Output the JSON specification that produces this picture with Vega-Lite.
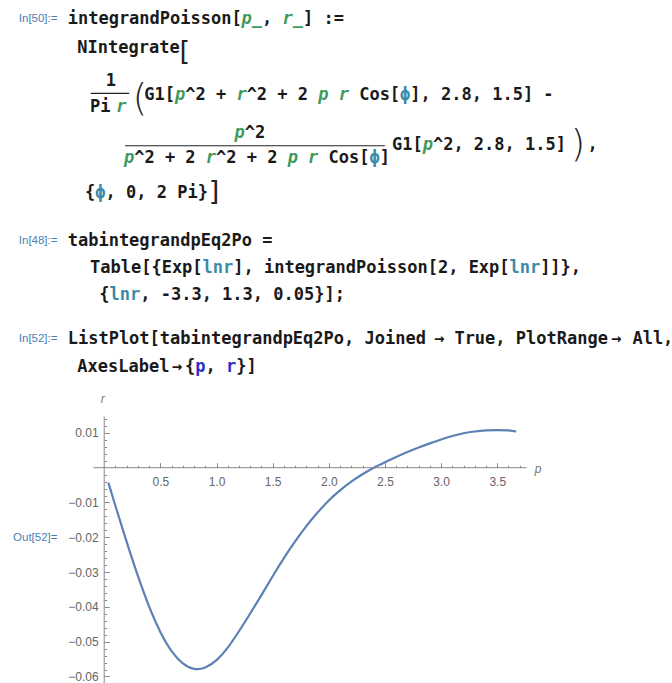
{
  "$schema": "https://vega.github.io/schema/vega-lite/v6.json",
  "width": 672,
  "height": 683,
  "padding": 0,
  "autosize": {"type": "none"},
  "background": "white",
  "config": {"view": {"stroke": null}, "axis": {"grid": false, "title": null}},
  "datasets": {
    "code": [
      {"line": 1, "col": 0, "text": "integrandPoisson[", "kind": "code"},
      {"line": 1, "col": 19, "text": ",", "kind": "code"},
      {"line": 1, "col": 23, "text": "] :=", "kind": "code"},
      {"line": 2.06, "col": 0.94, "text": "NIntegrate", "kind": "code"},
      {"line": 3.27, "col": 3.73, "text": "1", "kind": "code"},
      {"line": 4.22, "col": 2.18, "text": "Pi", "kind": "code"},
      {"line": 3.78, "col": 7.49, "text": "G1[", "kind": "code"},
      {"line": 3.78, "col": 11.49, "text": "^2 +", "kind": "code"},
      {"line": 3.78, "col": 17.49, "text": "^2 + 2", "kind": "code"},
      {"line": 3.78, "col": 28.49, "text": "Cos[", "kind": "code"},
      {"line": 3.78, "col": 32.49, "text": "ϕ", "kind": "local"},
      {"line": 3.78, "col": 33.49, "text": "], 2.8, 1.5] -", "kind": "code"},
      {"line": 5.18, "col": 17.3, "text": "^2", "kind": "code"},
      {"line": 6.09, "col": 6.5, "text": "^2 + 2", "kind": "code"},
      {"line": 6.09, "col": 14.5, "text": "^2 + 2", "kind": "code"},
      {"line": 6.09, "col": 25.5, "text": "Cos[", "kind": "code"},
      {"line": 6.09, "col": 29.5, "text": "ϕ", "kind": "local"},
      {"line": 6.09, "col": 30.5, "text": "]", "kind": "code"},
      {"line": 5.62, "col": 31.7, "text": "G1[", "kind": "code"},
      {"line": 5.62, "col": 35.7, "text": "^2, 2.8, 1.5]", "kind": "code"},
      {"line": 5.62, "col": 50.8, "text": ",", "kind": "code"},
      {"line": 7.37, "col": 1.7, "text": "{", "kind": "code"},
      {"line": 7.37, "col": 2.7, "text": "ϕ", "kind": "local"},
      {"line": 7.37, "col": 3.7, "text": ", 0, 2 Pi}", "kind": "code"},
      {"line": 9.12, "col": 0, "text": "tabintegrandpEq2Po =", "kind": "code"},
      {"line": 10.12, "col": 2.18, "text": "Table[{Exp[", "kind": "code"},
      {"line": 10.12, "col": 13.18, "text": "lnr", "kind": "local"},
      {"line": 10.12, "col": 16.18, "text": "], integrandPoisson[2, Exp[", "kind": "code"},
      {"line": 10.12, "col": 43.18, "text": "lnr", "kind": "local"},
      {"line": 10.12, "col": 46.18, "text": "]]},", "kind": "code"},
      {"line": 11.11, "col": 3.09, "text": "{", "kind": "code"},
      {"line": 11.11, "col": 4.09, "text": "lnr", "kind": "local"},
      {"line": 11.11, "col": 7.09, "text": ", -3.3, 1.3, 0.05}];", "kind": "code"},
      {"line": 12.72, "col": 0, "text": "ListPlot[tabintegrandpEq2Po, Joined", "kind": "code"},
      {"line": 12.72, "col": 35.8, "text": "→", "kind": "code"},
      {"line": 12.72, "col": 37.8, "text": "True, PlotRange", "kind": "code"},
      {"line": 12.72, "col": 53.1, "text": "→", "kind": "code"},
      {"line": 12.72, "col": 55.2, "text": "All,", "kind": "code"},
      {"line": 13.74, "col": 0.94, "text": "AxesLabel", "kind": "code"},
      {"line": 13.74, "col": 10.17, "text": "→", "kind": "code"},
      {"line": 13.74, "col": 11.47, "text": "{", "kind": "code"},
      {"line": 13.74, "col": 12.47, "text": "p", "kind": "global"},
      {"line": 13.74, "col": 13.47, "text": ",", "kind": "code"},
      {"line": 13.74, "col": 15.47, "text": "r", "kind": "global"},
      {"line": 13.74, "col": 16.47, "text": "}]", "kind": "code"}
    ],
    "args": [
      {"line": 1, "col": 17, "text": "p_"},
      {"line": 1, "col": 21, "text": "r_"},
      {"line": 4.22, "col": 4.75, "text": "r"},
      {"line": 3.78, "col": 10.49, "text": "p"},
      {"line": 3.78, "col": 16.49, "text": "r"},
      {"line": 3.78, "col": 24.49, "text": "p"},
      {"line": 3.78, "col": 26.49, "text": "r"},
      {"line": 5.18, "col": 16.3, "text": "p"},
      {"line": 6.09, "col": 5.5, "text": "p"},
      {"line": 6.09, "col": 13.5, "text": "r"},
      {"line": 6.09, "col": 21.5, "text": "p"},
      {"line": 6.09, "col": 23.5, "text": "r"},
      {"line": 5.62, "col": 34.7, "text": "p"}
    ],
    "labels": [
      {"line": 0.927, "col": -1, "text": "In[50]:="},
      {"line": 9.06, "col": -1, "text": "In[48]:="},
      {"line": 12.65, "col": -1, "text": "In[52]:="},
      {"line": 19.94, "col": -1, "text": "Out[52]="}
    ],
    "smallBrackets": [
      {"line": 2.01, "col": 11.45, "text": "["},
      {"line": 7.17, "col": 14.3, "text": "]"}
    ],
    "largeBrackets": [
      {"line": 3.78, "col": 7.07, "text": "("},
      {"line": 5.46, "col": 49.88, "text": ")"}
    ],
    "fractionBars": [
      {"line": 3.54, "col": 2.25, "col2": 6.02},
      {"line": 5.46, "col": 5.6, "col2": 31.0}
    ],
    "curve": [
      {"p": 0.037, "r": -0.0043},
      {"p": 0.1, "r": -0.0110},
      {"p": 0.2, "r": -0.0213},
      {"p": 0.3, "r": -0.0311},
      {"p": 0.4, "r": -0.0399},
      {"p": 0.5, "r": -0.0472},
      {"p": 0.6, "r": -0.0527},
      {"p": 0.7, "r": -0.0562},
      {"p": 0.8, "r": -0.0578},
      {"p": 0.9, "r": -0.0574},
      {"p": 1.0, "r": -0.0553},
      {"p": 1.1, "r": -0.0517},
      {"p": 1.2, "r": -0.0470},
      {"p": 1.3, "r": -0.0419},
      {"p": 1.4, "r": -0.0366},
      {"p": 1.5, "r": -0.0312},
      {"p": 1.6, "r": -0.0260},
      {"p": 1.7, "r": -0.0212},
      {"p": 1.8, "r": -0.0168},
      {"p": 1.9, "r": -0.0129},
      {"p": 2.0, "r": -0.0094},
      {"p": 2.1, "r": -0.0065},
      {"p": 2.2, "r": -0.0040},
      {"p": 2.3, "r": -0.0019},
      {"p": 2.4, "r": 0.0000},
      {"p": 2.5, "r": 0.0016},
      {"p": 2.6, "r": 0.0031},
      {"p": 2.7, "r": 0.0045},
      {"p": 2.8, "r": 0.0058},
      {"p": 2.9, "r": 0.0070},
      {"p": 3.0, "r": 0.0081},
      {"p": 3.1, "r": 0.0091},
      {"p": 3.2, "r": 0.0099},
      {"p": 3.3, "r": 0.0104},
      {"p": 3.4, "r": 0.0107},
      {"p": 3.5, "r": 0.0108},
      {"p": 3.6, "r": 0.0107},
      {"p": 3.669, "r": 0.0104}
    ]
  },
  "layer": [
    {
      "layer": [
        {
          "data": {"name": "code"},
          "mark": {"type": "text", "font": "DejaVu Sans Mono", "fontWeight": "bold", "fontSize": 17, "align": "left", "baseline": "alphabetic"},
          "encoding": {
            "x": {"field": "col", "type": "quantitative", "scale": {"domain": [-6.618, 59.07], "nice": false, "zero": false}, "axis": null},
            "y": {"field": "line", "type": "quantitative", "scale": {"domain": [0.1209, 25.139], "reverse": true, "nice": false, "zero": false}, "axis": null},
            "text": {"field": "text"},
            "color": {"field": "kind", "type": "nominal", "scale": {"domain": ["code", "local", "global"], "range": ["#1a1a1a", "#3a8aa8", "#2d2dc8"]}, "legend": null}
          }
        },
        {
          "data": {"name": "args"},
          "mark": {"type": "text", "font": "DejaVu Sans Mono", "fontWeight": "bold", "fontStyle": "italic", "fontSize": 17, "align": "left", "baseline": "alphabetic", "fill": "#3e9a5a"},
          "encoding": {
            "x": {"field": "col", "type": "quantitative", "scale": {"domain": [-6.618, 59.07], "nice": false, "zero": false}, "axis": null},
            "y": {"field": "line", "type": "quantitative", "scale": {"domain": [0.1209, 25.139], "reverse": true, "nice": false, "zero": false}, "axis": null},
            "text": {"field": "text"}
          }
        },
        {
          "data": {"name": "labels"},
          "mark": {"type": "text", "font": "Liberation Sans", "fontSize": 11.5, "align": "right", "baseline": "alphabetic", "fill": "#4a7fb5"},
          "encoding": {
            "x": {"field": "col", "type": "quantitative", "scale": {"domain": [-6.618, 59.07], "nice": false, "zero": false}, "axis": null},
            "y": {"field": "line", "type": "quantitative", "scale": {"domain": [0.1209, 25.139], "reverse": true, "nice": false, "zero": false}, "axis": null},
            "text": {"field": "text"}
          }
        },
        {
          "data": {"name": "smallBrackets"},
          "mark": {"type": "text", "font": "DejaVu Sans", "fontSize": 27, "align": "center", "baseline": "middle", "fill": "#222"},
          "encoding": {
            "x": {"field": "col", "type": "quantitative", "scale": {"domain": [-6.618, 59.07], "nice": false, "zero": false}, "axis": null},
            "y": {"field": "line", "type": "quantitative", "scale": {"domain": [0.1209, 25.139], "reverse": true, "nice": false, "zero": false}, "axis": null},
            "text": {"field": "text"}
          }
        },
        {
          "data": {"name": "largeBrackets"},
          "mark": {"type": "text", "font": "DejaVu Sans", "fontWeight": 200, "fontSize": 37, "align": "center", "baseline": "middle", "fill": "#222"},
          "encoding": {
            "x": {"field": "col", "type": "quantitative", "scale": {"domain": [-6.618, 59.07], "nice": false, "zero": false}, "axis": null},
            "y": {"field": "line", "type": "quantitative", "scale": {"domain": [0.1209, 25.139], "reverse": true, "nice": false, "zero": false}, "axis": null},
            "text": {"field": "text"}
          }
        },
        {
          "data": {"name": "fractionBars"},
          "mark": {"type": "rule", "stroke": "#222", "strokeWidth": 1.2},
          "encoding": {
            "x": {"field": "col", "type": "quantitative", "scale": {"domain": [-6.618, 59.07], "nice": false, "zero": false}, "axis": null},
            "x2": {"field": "col2"},
            "y": {"field": "line", "type": "quantitative", "scale": {"domain": [0.1209, 25.139], "reverse": true, "nice": false, "zero": false}, "axis": null}
          }
        }
      ]
    },
    {
      "layer": [
        {
          "data": {"name": "curve"},
          "mark": {"type": "line", "stroke": "#5E81B5", "strokeWidth": 2.2, "interpolate": "natural"},
          "encoding": {
            "x": {"field": "p", "type": "quantitative", "scale": {"domain": [-0.928, 5.056], "nice": false, "zero": false},
              "axis": {"orient": "bottom", "offset": -215.3, "values": [0.5, 1, 1.5, 2, 2.5, 3, 3.5], "format": ".1f", "ticks": false, "domain": false, "labelPadding": 9, "labelFont": "Liberation Sans", "labelFontSize": 12, "labelColor": "#666", "labelFlush": false, "title": null}},
            "y": {"field": "r", "type": "quantitative", "scale": {"domain": [-0.06187, 0.1344], "nice": false, "zero": false},
              "axis": {"orient": "left", "offset": -104.2, "values": [-0.06, -0.05, -0.04, -0.03, -0.02, -0.01, 0.01], "format": ".2f", "ticks": false, "domain": false, "labelPadding": 6, "labelFont": "Liberation Sans", "labelFontSize": 12, "labelColor": "#666", "labelFlush": false, "title": null}}
          }
        },
        {
          "data": {"values": [{}]},
          "mark": {"type": "rule", "stroke": "#888", "strokeWidth": 1},
          "encoding": {
            "x": {"datum": -0.097, "type": "quantitative", "scale": {"domain": [-0.928, 5.056], "nice": false, "zero": false},
              "axis": {"orient": "top", "offset": -467.7, "values": [0.5, 1, 1.5, 2, 2.5, 3, 3.5], "labels": false, "domain": false, "tickSize": 5, "tickColor": "#888", "tickWidth": 1, "title": null}},
            "x2": {"datum": 3.76},
            "y": {"datum": 0, "type": "quantitative", "scale": {"domain": [-0.06187, 0.1344], "nice": false, "zero": false},
              "axis": {"orient": "right", "offset": -567.8, "values": [-0.06, -0.05, -0.04, -0.03, -0.02, -0.01, 0.01], "labels": false, "domain": false, "tickSize": 5, "tickColor": "#888", "tickWidth": 1, "title": null}}
          }
        },
        {
          "data": {"values": [{}]},
          "mark": {"type": "rule", "stroke": "#888", "strokeWidth": 1},
          "encoding": {
            "x": {"datum": 0, "type": "quantitative", "scale": {"domain": [-0.928, 5.056], "nice": false, "zero": false},
              "axis": {"orient": "top", "offset": -467.7, "values": [0.1, 0.2, 0.3, 0.4, 0.6, 0.7, 0.8, 0.9, 1.1, 1.2, 1.3, 1.4, 1.6, 1.7, 1.8, 1.9, 2.1, 2.2, 2.3, 2.4, 2.6, 2.7, 2.8, 2.9, 3.1, 3.2, 3.3, 3.4, 3.6, 3.7], "labels": false, "domain": false, "tickSize": 2.5, "tickColor": "#888", "tickWidth": 1, "title": null}},
            "y": {"datum": -0.06187, "type": "quantitative", "scale": {"domain": [-0.06187, 0.1344], "nice": false, "zero": false},
              "axis": {"orient": "right", "offset": -567.8, "values": [-0.058, -0.056, -0.054, -0.052, -0.048, -0.046, -0.044, -0.042, -0.038, -0.036, -0.034, -0.032, -0.028, -0.026, -0.024, -0.022, -0.018, -0.016, -0.014, -0.012, -0.008, -0.006, -0.004, -0.002, 0.002, 0.004, 0.006, 0.008, 0.012, 0.014], "labels": false, "domain": false, "tickSize": 2.5, "tickColor": "#888", "tickWidth": 1, "title": null}},
            "y2": {"datum": 0.0147}
          }
        },
        {
          "data": {"values": [{}]},
          "mark": {"type": "text", "font": "Liberation Sans", "fontStyle": "italic", "fontSize": 12, "align": "center", "baseline": "middle", "fill": "#777"},
          "encoding": {
            "x": {"datum": -0.013, "type": "quantitative", "scale": {"domain": [-0.928, 5.056], "nice": false, "zero": false}, "axis": null},
            "y": {"datum": 0.0197, "type": "quantitative", "scale": {"domain": [-0.06187, 0.1344], "nice": false, "zero": false}, "axis": null},
            "text": {"value": "r"}
          }
        },
        {
          "data": {"values": [{}]},
          "mark": {"type": "text", "font": "Liberation Sans", "fontStyle": "italic", "fontSize": 12, "align": "center", "baseline": "middle", "fill": "#777"},
          "encoding": {
            "x": {"datum": 3.863, "type": "quantitative", "scale": {"domain": [-0.928, 5.056], "nice": false, "zero": false}, "axis": null},
            "y": {"datum": -0.0005, "type": "quantitative", "scale": {"domain": [-0.06187, 0.1344], "nice": false, "zero": false}, "axis": null},
            "text": {"value": "p"}
          }
        }
      ],
      "resolve": {"axis": {"x": "independent", "y": "independent"}}
    }
  ],
  "resolve": {"scale": {"x": "independent", "y": "independent"}}
}
